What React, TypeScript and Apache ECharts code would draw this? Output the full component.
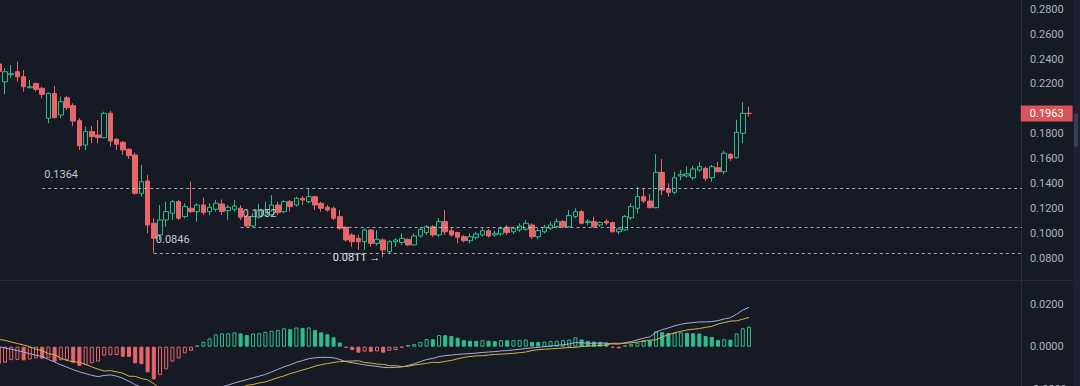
import React, { useEffect, useRef } from "react";
import * as echarts from "echarts";

// ---- data ----
// [open, close, low, high]
const candles: number[][] = [
  [0.2360, 0.2300, 0.2270, 0.2390], [0.2218, 0.2298, 0.2117, 0.2326], [0.2275, 0.2282, 0.2250, 0.2352],
  [0.2298, 0.2258, 0.2218, 0.2379], [0.2258, 0.2178, 0.2138, 0.2312], [0.2170, 0.2178, 0.2165, 0.2232],
  [0.2205, 0.2157, 0.2140, 0.2210], [0.2165, 0.2117, 0.2085, 0.2178], [0.1925, 0.2125, 0.1885, 0.2130],
  [0.2125, 0.1930, 0.1925, 0.2184], [0.1951, 0.2058, 0.1925, 0.2098], [0.2090, 0.2010, 0.1992, 0.2104],
  [0.2026, 0.1903, 0.1863, 0.2045], [0.1906, 0.1705, 0.1671, 0.1925], [0.1711, 0.1818, 0.1671, 0.1858],
  [0.1818, 0.1778, 0.1725, 0.1863], [0.1791, 0.1770, 0.1725, 0.1911], [0.1770, 0.1965, 0.1765, 0.1978],
  [0.1965, 0.1743, 0.1698, 0.1984], [0.1757, 0.1717, 0.1671, 0.1765], [0.1733, 0.1671, 0.1631, 0.1743],
  [0.1677, 0.1625, 0.1599, 0.1685], [0.1631, 0.1324, 0.1311, 0.1650], [0.1324, 0.1417, 0.1297, 0.1551],
  [0.1423, 0.1070, 0.1003, 0.1471], [0.1084, 0.0963, 0.0846, 0.1124], [0.0990, 0.1110, 0.0950, 0.1230],
  [0.1110, 0.1177, 0.1056, 0.1257], [0.1164, 0.1257, 0.1110, 0.1270], [0.1257, 0.1124, 0.1110, 0.1270],
  [0.1137, 0.1217, 0.1124, 0.1243], [0.1204, 0.1177, 0.1164, 0.1417], [0.1177, 0.1230, 0.1097, 0.1244],
  [0.1230, 0.1169, 0.1150, 0.1289], [0.1177, 0.1212, 0.1150, 0.1244], [0.1196, 0.1244, 0.1177, 0.1270],
  [0.1238, 0.1177, 0.1150, 0.1275], [0.1185, 0.1212, 0.1110, 0.1230], [0.1196, 0.1222, 0.1177, 0.1270],
  [0.1204, 0.1132, 0.1110, 0.1230], [0.1137, 0.1062, 0.1052, 0.1150], [0.1062, 0.1137, 0.1056, 0.1164],
  [0.1134, 0.1188, 0.1120, 0.1240], [0.1150, 0.1190, 0.1137, 0.1257], [0.1150, 0.1230, 0.1137, 0.1310],
  [0.1230, 0.1169, 0.1150, 0.1257], [0.1177, 0.1257, 0.1164, 0.1270], [0.1257, 0.1217, 0.1177, 0.1270],
  [0.1230, 0.1284, 0.1217, 0.1297], [0.1284, 0.1270, 0.1230, 0.1300], [0.1257, 0.1297, 0.1244, 0.1364],
  [0.1297, 0.1230, 0.1190, 0.1304], [0.1244, 0.1204, 0.1177, 0.1257], [0.1212, 0.1190, 0.1177, 0.1230],
  [0.1204, 0.1124, 0.1110, 0.1217], [0.1137, 0.1044, 0.1030, 0.1190], [0.1052, 0.0950, 0.0937, 0.1056],
  [0.0990, 0.0936, 0.0896, 0.1003], [0.0963, 0.0936, 0.0870, 0.0990], [0.0936, 0.1030, 0.0870, 0.1044],
  [0.1030, 0.0923, 0.0896, 0.1035], [0.0923, 0.0955, 0.0903, 0.1030], [0.0950, 0.0870, 0.0811, 0.0963],
  [0.0856, 0.0936, 0.0843, 0.0950], [0.0936, 0.0950, 0.0896, 0.0963], [0.0930, 0.0963, 0.0910, 0.1003],
  [0.0955, 0.0910, 0.0903, 0.0963], [0.0910, 0.0982, 0.0903, 0.1003], [0.0982, 0.1036, 0.0970, 0.1050],
  [0.1010, 0.1056, 0.0990, 0.1070], [0.1056, 0.0990, 0.0976, 0.1070], [0.0990, 0.1097, 0.0976, 0.1124],
  [0.1097, 0.1016, 0.0990, 0.1190], [0.1024, 0.0990, 0.0976, 0.1044], [0.1010, 0.0971, 0.0923, 0.1016],
  [0.0976, 0.0944, 0.0930, 0.0990], [0.0944, 0.0976, 0.0923, 0.1003], [0.0971, 0.0998, 0.0957, 0.1016],
  [0.0990, 0.1024, 0.0976, 0.1044], [0.1024, 0.0982, 0.0970, 0.1036], [0.0990, 0.1003, 0.0976, 0.1024],
  [0.0998, 0.1044, 0.0982, 0.1056], [0.1052, 0.1010, 0.0990, 0.1070], [0.1016, 0.1044, 0.0998, 0.1056],
  [0.1030, 0.1062, 0.1016, 0.1083], [0.1036, 0.1084, 0.1024, 0.1110], [0.1070, 0.0976, 0.0957, 0.1083],
  [0.0976, 0.1024, 0.0957, 0.1044], [0.1016, 0.1052, 0.1003, 0.1070], [0.1044, 0.1070, 0.1030, 0.1097],
  [0.1056, 0.1097, 0.1044, 0.1124], [0.1097, 0.1056, 0.1044, 0.1110], [0.1056, 0.1145, 0.1050, 0.1190],
  [0.1137, 0.1177, 0.1124, 0.1204], [0.1177, 0.1084, 0.1076, 0.1190], [0.1090, 0.1100, 0.1070, 0.1117],
  [0.1097, 0.1056, 0.1044, 0.1137], [0.1070, 0.1090, 0.1056, 0.1097], [0.1100, 0.1086, 0.1070, 0.1117],
  [0.1090, 0.1016, 0.1010, 0.1097], [0.1016, 0.1038, 0.0996, 0.1044], [0.1030, 0.1137, 0.1024, 0.1150],
  [0.1128, 0.1217, 0.1110, 0.1244], [0.1204, 0.1297, 0.1164, 0.1377], [0.1297, 0.1262, 0.1244, 0.1364],
  [0.1262, 0.1209, 0.1204, 0.1318], [0.1209, 0.1492, 0.1204, 0.1637], [0.1492, 0.1350, 0.1310, 0.1599],
  [0.1358, 0.1332, 0.1297, 0.1404], [0.1332, 0.1449, 0.1316, 0.1497], [0.1463, 0.1476, 0.1430, 0.1511],
  [0.1463, 0.1480, 0.1449, 0.1538], [0.1449, 0.1519, 0.1430, 0.1545], [0.1511, 0.1537, 0.1497, 0.1577],
  [0.1524, 0.1444, 0.1422, 0.1537], [0.1449, 0.1537, 0.1417, 0.1551], [0.1529, 0.1497, 0.1492, 0.1577],
  [0.1497, 0.1645, 0.1476, 0.1664], [0.1637, 0.1605, 0.1583, 0.1645], [0.1609, 0.1813, 0.1605, 0.1911],
  [0.1805, 0.1965, 0.1725, 0.2053], [0.1965, 0.1963, 0.1938, 0.2018],
];

const macdHist: number[] = [
  -0.0080, -0.0075, -0.0063, -0.0062, -0.0064, -0.0060, -0.0055, -0.0056, -0.0054, -0.0070,
  -0.0063, -0.0062, -0.0075, -0.0090, -0.0086, -0.0078, -0.0070, -0.0042, -0.0040, -0.0039,
  -0.0047, -0.0048, -0.0078, -0.0082, -0.0120, -0.0153, -0.0133, -0.0106, -0.0070, -0.0055,
  -0.0031, -0.0019, 0.0006, 0.0023, 0.0039, 0.0058, 0.0062, 0.0063, 0.0067, 0.0062,
  0.0055, 0.0062, 0.0063, 0.0070, 0.0075, 0.0078, 0.0086, 0.0082, 0.0090, 0.0088,
  0.0090, 0.0078, 0.0067, 0.0058, 0.0044, 0.0020, -0.0005, -0.0016, -0.0028, -0.0023,
  -0.0024, -0.0022, -0.0028, -0.0019, -0.0016, -0.0004, 0.0008, 0.0012, 0.0023, 0.0036,
  0.0035, 0.0055, 0.0054, 0.0050, 0.0042, 0.0031, 0.0028, 0.0027, 0.0031, 0.0028,
  0.0026, 0.0031, 0.0030, 0.0031, 0.0032, 0.0034, 0.0023, 0.0022, 0.0024, 0.0027,
  0.0028, 0.0031, 0.0034, 0.0044, 0.0034, 0.0027, 0.0024, 0.0023, 0.0019, -0.0006,
  -0.0008, 0.0006, 0.0012, 0.0019, 0.0031, 0.0030, 0.0072, 0.0068, 0.0064, 0.0066,
  0.0067, 0.0065, 0.0063, 0.0062, 0.0050, 0.0046, 0.0031, 0.0035, 0.0033, 0.0062,
  0.0086, 0.0094,
];

const macdDif: number[] = [
  0.0000, -0.0006, -0.0012, -0.0018, -0.0025, -0.0033, -0.0040, -0.0046, -0.0060, -0.0072,
  -0.0085, -0.0096, -0.0108, -0.0118, -0.0126, -0.0134, -0.0140, -0.0135, -0.0132, -0.0138,
  -0.0148, -0.0162, -0.0178, -0.0190, -0.0215, -0.0250, -0.0262, -0.0265, -0.0262, -0.0255,
  -0.0245, -0.0236, -0.0226, -0.0218, -0.0208, -0.0198, -0.0188, -0.0180, -0.0170, -0.0162,
  -0.0154, -0.0146, -0.0138, -0.0130, -0.0118, -0.0106, -0.0094, -0.0085, -0.0073, -0.0065,
  -0.0056, -0.0052, -0.0050, -0.0050, -0.0052, -0.0060, -0.0070, -0.0075, -0.0080, -0.0085,
  -0.0089, -0.0092, -0.0097, -0.0098, -0.0097, -0.0095, -0.0088, -0.0080, -0.0070, -0.0060,
  -0.0055, -0.0046, -0.0042, -0.0039, -0.0036, -0.0034, -0.0032, -0.0030, -0.0027, -0.0025,
  -0.0023, -0.0020, -0.0018, -0.0015, -0.0012, -0.0008, -0.0006, -0.0003, 0.0000, 0.0003,
  0.0006, 0.0009, 0.0013, 0.0019, 0.0018, 0.0016, 0.0016, 0.0017, 0.0017, 0.0013,
  0.0012, 0.0019, 0.0024, 0.0032, 0.0040, 0.0046, 0.0068, 0.0080, 0.0088, 0.0098,
  0.0105, 0.0110, 0.0113, 0.0116, 0.0116, 0.0118, 0.0122, 0.0130, 0.0136, 0.0152,
  0.0172, 0.0184,
];

const macdDea: number[] = [
  0.0034, 0.0030, 0.0022, 0.0015, 0.0008, 0.0000, -0.0012, -0.0018, -0.0033, -0.0037,
  -0.0053, -0.0065, -0.0070, -0.0073, -0.0083, -0.0095, -0.0105, -0.0114, -0.0112, -0.0118,
  -0.0124, -0.0138, -0.0139, -0.0149, -0.0155, -0.0173, -0.0195, -0.0212, -0.0227, -0.0228,
  -0.0230, -0.0226, -0.0229, -0.0229, -0.0228, -0.0227, -0.0219, -0.0212, -0.0203, -0.0193,
  -0.0181, -0.0177, -0.0170, -0.0165, -0.0155, -0.0145, -0.0137, -0.0126, -0.0118, -0.0109,
  -0.0101, -0.0091, -0.0084, -0.0079, -0.0074, -0.0070, -0.0068, -0.0067, -0.0066, -0.0074,
  -0.0077, -0.0081, -0.0083, -0.0089, -0.0089, -0.0093, -0.0092, -0.0086, -0.0082, -0.0078,
  -0.0073, -0.0074, -0.0069, -0.0064, -0.0057, -0.0050, -0.0046, -0.0043, -0.0042, -0.0039,
  -0.0036, -0.0035, -0.0033, -0.0031, -0.0028, -0.0025, -0.0018, -0.0014, -0.0012, -0.0010,
  -0.0008, -0.0006, -0.0004, -0.0003, 0.0001, 0.0003, 0.0004, 0.0006, 0.0008, 0.0016,
  0.0016, 0.0016, 0.0018, 0.0022, 0.0025, 0.0031, 0.0032, 0.0046, 0.0056, 0.0065,
  0.0072, 0.0078, 0.0082, 0.0085, 0.0091, 0.0095, 0.0106, 0.0113, 0.0120, 0.0121,
  0.0129, 0.0137,
];

// price levels marked on the chart: [value, start candle index]
const levelLines: number[][] = [
  [0.1364, 7],
  [0.1052, 39],
  [0.0846, 25],
];
const lowMark = { value: 0.0811, index: 62 };
const lastPrice = 0.1963;
const priceTicks = { min: 0.06, max: 0.30, interval: 0.02 };
const macdTicks = { min: -0.04, max: 0.04, interval: 0.02 };
const SLOT_COUNT = 166; // candles + empty space on the right

const BG = "#161a25";
const GREEN = "#2ebd8c";
const RED = "#e8656a";
const FONT = "Roboto, Arial, sans-serif";

export default function App() {
  const ref = useRef<HTMLDivElement>(null);

  useEffect(() => {
    document.body.style.margin = "0";
    const chart = echarts.init(ref.current!, null, { renderer: "svg" });
    const categories = Array.from({ length: SLOT_COUNT }, (_, i) => String(i));
    const lastIdx = SLOT_COUNT - 1;

    const histData = macdHist.map((v, i) => {
      const rising = i > 0 && v > macdHist[i - 1];
      const c = v >= 0 ? GREEN : RED;
      return {
        value: v,
        itemStyle: rising
          ? { color: BG, borderColor: c, borderWidth: 1 }
          : { color: c, borderColor: c, borderWidth: 1 },
      };
    });

    const labelStyle = { color: "#aeb2bc", fontSize: 11, fontFamily: FONT };

    const option: any = {
      animation: false,
      backgroundColor: BG,
      grid: [
        { left: -4.3, width: 1029.2, top: -15.86, height: 299.5, outerBoundsMode: "none", containLabel: false },
        { left: -4.3, width: 1029.2, top: 261.3, height: 170.8, outerBoundsMode: "none", containLabel: false },
      ],
      xAxis: [
        { type: "category", data: categories, gridIndex: 0, show: false, boundaryGap: true },
        { type: "category", data: categories, gridIndex: 1, show: false, boundaryGap: true },
      ],
      yAxis: [
        {
          type: "value", gridIndex: 0, position: "right", offset: -4,
          min: priceTicks.min, max: priceTicks.max, interval: priceTicks.interval,
          splitLine: { show: false },
          axisLine: { show: true, lineStyle: { color: "#2a2e3a" } },
          axisTick: { show: false },
          axisLabel: {
            ...labelStyle, margin: 9, showMinLabel: false, showMaxLabel: false,
            formatter: (v: number) => (Math.abs(v - lastPrice) < 0.006 ? "" : v.toFixed(4)),
          },
        },
        {
          type: "value", gridIndex: 1, position: "right", offset: -4,
          min: macdTicks.min, max: macdTicks.max, interval: macdTicks.interval,
          splitLine: { show: false },
          axisLine: { show: true, lineStyle: { color: "#2a2e3a" } },
          axisTick: { show: false },
          axisLabel: { ...labelStyle, margin: 9, showMaxLabel: false, formatter: (v: number) => v.toFixed(4) },
        },
      ],
      series: [
        {
          type: "candlestick",
          xAxisIndex: 0, yAxisIndex: 0,
          data: candles,
          barWidth: 5,
          itemStyle: { color: BG, color0: RED, borderColor: GREEN, borderColor0: RED, borderWidth: 1 },
          markLine: {
            silent: true,
            symbol: ["none", "none"],
            animation: false,
            data: [
              [
                {
                  coord: [candles.length - 1, lastPrice],
                  lineStyle: { color: "rgba(0,0,0,0)", width: 1 },
                  label: {
                    show: true, position: "end", distance: -1,
                    formatter: lastPrice.toFixed(4), color: "#ffffff", fontSize: 11, fontFamily: FONT,
                    backgroundColor: "#d9555a", padding: [3, 9, 2, 9],
                  },
                },
                { coord: [lastIdx, lastPrice] },
              ],
            ],
          },
          markPoint: {
            silent: true,
            animation: false,
            data: [
              {
                coord: [lowMark.index, lowMark.value],
                symbol: "circle", symbolSize: 0,
                label: {
                  show: true, position: "left", distance: 3,
                  formatter: lowMark.value.toFixed(4) + " →",
                  color: "#e2e4ea", fontSize: 11, fontFamily: FONT,
                },
              },
            ],
          },
        },
        {
          type: "bar", xAxisIndex: 1, yAxisIndex: 1, data: histData, barWidth: 4,
        },
        {
          type: "line", xAxisIndex: 1, yAxisIndex: 1, data: macdDif, showSymbol: false, symbol: "none",
          lineStyle: { color: "#aeaadf", width: 1 },
        },
        {
          type: "line", xAxisIndex: 1, yAxisIndex: 1, data: macdDea, showSymbol: false, symbol: "none",
          lineStyle: { color: "#d7b443", width: 1 },
        },
      ],
    };
    chart.setOption(option);

    // level lines placed through the chart's own scales
    const px = (i: number, v: number) => chart.convertToPixel({ gridIndex: 0 }, [i, v]) as number[];
    const endX = px(lastIdx, 0)[0];
    const graphics: any[] = [
      { type: "line", shape: { x1: 0, y1: 280.5, x2: 1080, y2: 280.5 }, style: { stroke: "#262a36", lineWidth: 1 }, z: 0 },
      { type: "rect", shape: { x: 1073, y: 0, width: 7, height: 386 }, style: { fill: "#1d2130" }, z: 0 },
      { type: "rect", shape: { x: 1074, y: 113, width: 4, height: 34, r: 2 }, style: { fill: "#3a3f4f" }, z: 1 },
    ];
    levelLines.forEach(([v, idx]) => {
      const [x0, y0] = px(idx, v);
      const y = Math.round(y0) + 0.5;
      graphics.push({
        type: "line", silent: true, z: 50,
        shape: { x1: x0, y1: y, x2: endX, y2: y },
        style: { stroke: "rgba(215,219,228,0.72)", lineWidth: 1, lineDash: [3, 3] },
      });
      graphics.push({
        type: "text", silent: true, z: 51,
        x: x0 + 2, y: y - 14,
        style: { text: v.toFixed(4), fill: "#c3c6ce", fontSize: 11, fontFamily: FONT, textVerticalAlign: "middle" },
      });
    });
    chart.setOption({ graphic: graphics });

    return () => chart.dispose();
  }, []);

  return <div ref={ref} style={{ width: 1080, height: 386 }} />;
}
